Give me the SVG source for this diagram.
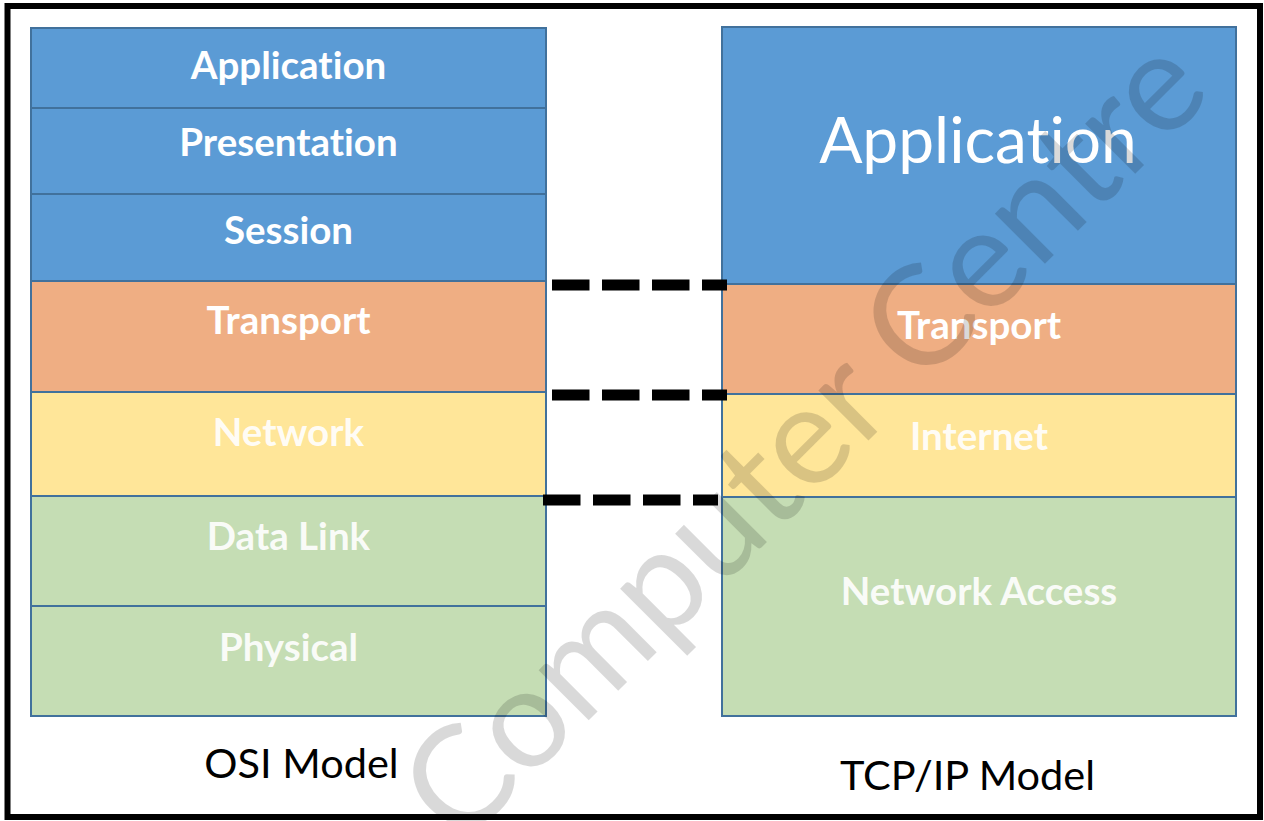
<svg xmlns="http://www.w3.org/2000/svg" width="1264" height="821" viewBox="0 0 1264 821">
  <style>
    text { font-variant-ligatures: none; font-feature-settings: "liga" 0; }
    .layer { stroke: #41719C; stroke-width: 2; }
    .app { fill: #5B9BD5; }
    .trn { fill: #EFAE83; }
    .net { fill: #FFE699; }
    .lnk { fill: #C5DDB4; }
    .lbl { font-family: Lato, "Open Sans", "Liberation Sans", sans-serif; font-weight: bold; font-size: 38.5px; fill: #FFFFFF; text-anchor: middle; }
    .soft { fill-opacity: 0.92; }
    .big { font-family: Lato, "Open Sans", "Liberation Sans", sans-serif; font-weight: normal; font-size: 64px; fill: #FFFFFF; text-anchor: middle; }
    .cap { font-family: Lato, "Open Sans", "Liberation Sans", sans-serif; font-size: 41.5px; fill: #000000; text-anchor: middle; }
    .dash { stroke: #000000; stroke-width: 11; stroke-dasharray: 37.5 12.5; fill: none; }
    .mark { font-family: Lato, "Open Sans", sans-serif; font-weight: normal; font-size: 140px; fill: #000000; fill-opacity: 0.15; text-anchor: middle; }
  </style>

  <rect x="0" y="0" width="1264" height="821" fill="#FFFFFF"/>

  <!-- OSI reference model: seven layers -->
  <g id="osi">
    <g id="osi-application">
      <rect class="layer app" x="31" y="28" width="515" height="80"/>
      <text class="lbl" x="288.5" y="79">Application</text>
    </g>
    <g id="osi-presentation">
      <rect class="layer app" x="31" y="108" width="515" height="86"/>
      <text class="lbl" x="288.5" y="156">Presentation</text>
    </g>
    <g id="osi-session">
      <rect class="layer app" x="31" y="194" width="515" height="87"/>
      <text class="lbl" x="288.5" y="244">Session</text>
    </g>
    <g id="osi-transport">
      <rect class="layer trn" x="31" y="281" width="515" height="111"/>
      <text class="lbl" x="288.5" y="334">Transport</text>
    </g>
    <g id="osi-network">
      <rect class="layer net" x="31" y="392" width="515" height="104"/>
      <text class="lbl soft" x="288.5" y="446">Network</text>
    </g>
    <g id="osi-datalink">
      <rect class="layer lnk" x="31" y="496" width="515" height="110"/>
      <text class="lbl soft" x="288.5" y="550">Data Link</text>
    </g>
    <g id="osi-physical">
      <rect class="layer lnk" x="31" y="606" width="515" height="110"/>
      <text class="lbl soft" x="288.5" y="661">Physical</text>
    </g>
    <text class="cap" x="301.5" y="778">OSI Model</text>
  </g>

  <!-- TCP/IP model: four layers -->
  <g id="tcpip">
    <g id="tcp-application">
      <rect class="layer app" x="722" y="27" width="514" height="257"/>
      <text class="big" x="978" y="163">Application</text>
    </g>
    <g id="tcp-transport">
      <rect class="layer trn" x="722" y="284" width="514" height="110"/>
      <text class="lbl" x="979" y="339">Transport</text>
    </g>
    <g id="tcp-internet">
      <rect class="layer net" x="722" y="394" width="514" height="103"/>
      <text class="lbl soft" x="979" y="450">Internet</text>
    </g>
    <g id="tcp-netaccess">
      <rect class="layer lnk" x="722" y="497" width="514" height="219"/>
      <text class="lbl soft" x="979" y="605">Network Access</text>
    </g>
    <text class="cap" x="967.5" y="790">TCP/IP Model</text>
  </g>

  <!-- layer boundary correspondences -->
  <g id="connectors">
    <line class="dash" x1="552" y1="285" x2="727" y2="285"/>
    <line class="dash" x1="552" y1="395" x2="727" y2="395"/>
    <line class="dash" x1="543" y1="500" x2="718" y2="500"/>
  </g>

  <!-- diagonal watermark -->
  <text class="mark" transform="translate(812,446) rotate(-45)" x="0" y="36">Computer Centre</text>

  <!-- outer frame -->
  <rect x="7.5" y="6" width="1252.5" height="811" fill="none" stroke="#000000" stroke-width="6"/>
</svg>
